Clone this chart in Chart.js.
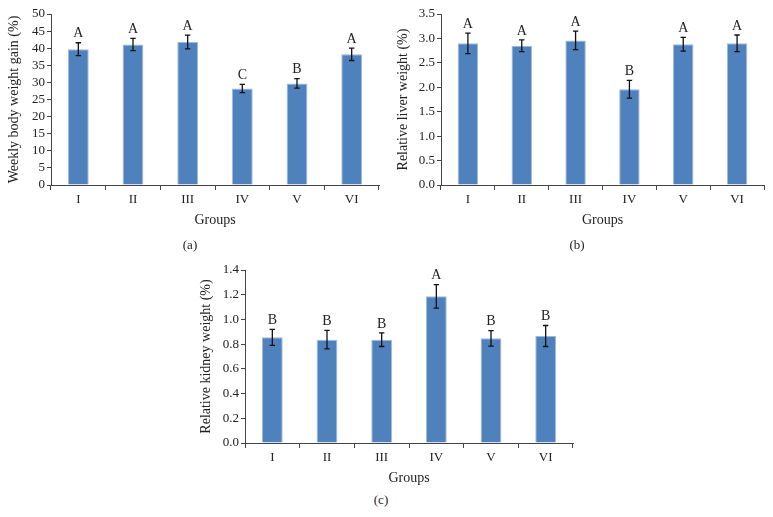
<!DOCTYPE html>
<html>
<head>
<meta charset="utf-8">
<script src="https://cdn.jsdelivr.net/npm/chart.js@4/dist/chart.umd.min.js"></script>
<style>
  body { margin: 0; background: #fff; width: 773px; height: 517px; position: relative; overflow: hidden; }
  canvas { position: absolute; }
  .cap { position: absolute; font: 13px "Liberation Serif", "DejaVu Serif", serif; color: #222; transform: translate(-50%, -50%); }
</style>
</head>
<body>
<canvas id="cA" width="390" height="230" style="left:0;top:0"></canvas>
<canvas id="cB" width="383" height="230" style="left:390px;top:0"></canvas>
<canvas id="cC" width="420" height="240" style="left:180px;top:250px"></canvas>
<div class="cap" style="left:190px;top:245px">(a)</div>
<div class="cap" style="left:577px;top:245px">(b)</div>
<div class="cap" style="left:381px;top:500px">(c)</div>
<script>
const groups = ['I', 'II', 'III', 'IV', 'V', 'VI']

// (a) weekly body weight gain
const weightGain = [39.7, 41.1, 41.8, 28.2, 29.7, 38.2]
const weightGainErr = [1.9, 1.8, 2.0, 1.2, 1.4, 1.8]
const weightGainLetters = ['A', 'A', 'A', 'C', 'B', 'A']

// (b) relative liver weight
const liverWeight = [2.90, 2.85, 2.96, 1.96, 2.88, 2.90]
const liverErr = [0.21, 0.12, 0.19, 0.18, 0.14, 0.17]
const liverLetters = ['A', 'A', 'A', 'B', 'A', 'A']

// (c) relative kidney weight
const kidneyWeight = [0.855, 0.836, 0.836, 1.187, 0.847, 0.866]
const kidneyErr = [0.065, 0.075, 0.055, 0.095, 0.063, 0.085]
const kidneyLetters = ['B', 'B', 'B', 'A', 'B', 'B']

const FONT = '"Liberation Serif", "DejaVu Serif", serif'
const TEXT = '#222'
const AXIS = '#444'

// error bars + significance letters
const errorBarPlugin = {
  id: 'errorBars',
  afterDatasetsDraw(chart, args, opts){
    const ctx = chart.ctx
    const y = chart.scales.y
    const meta = chart.getDatasetMeta(0)
    const vals = chart.data.datasets[0].data
    ctx.save()
    ctx.strokeStyle = '#111'
    ctx.lineWidth = 1.3
    meta.data.forEach((bar, i) => {
      const top = y.getPixelForValue(vals[i] + opts.err[i])
      const bot = y.getPixelForValue(vals[i] - opts.err[i])
      ctx.beginPath()
      ctx.moveTo(bar.x, top); ctx.lineTo(bar.x, bot)
      ctx.moveTo(bar.x - 2.7, top); ctx.lineTo(bar.x + 2.7, top)
      ctx.moveTo(bar.x - 2.7, bot); ctx.lineTo(bar.x + 2.7, bot)
      ctx.stroke()
      ctx.fillStyle = TEXT
      ctx.font = '14px ' + FONT
      ctx.textAlign = 'center'
      ctx.textBaseline = 'bottom'
      ctx.fillText(opts.letters[i], bar.x, top - 2)
    })
    ctx.restore()
  }
}

function makeChart(id, values, err, letters, cfg){
  new Chart(document.getElementById(id), {
    type: 'bar',
    data: { labels: groups, datasets: [{ data: values, backgroundColor: '#4f81bd', borderColor: '#9dbbe0', borderWidth: 1, barPercentage: 0.38, categoryPercentage: 1 }] },
    plugins: [errorBarPlugin],
    options: {
      responsive: false,
      animation: false,
      devicePixelRatio: 1,
      layout: { padding: cfg.padding },
      plugins: { legend: { display: false }, tooltip: { enabled: false }, errorBars: { err, letters } },
      scales: {
        x: {
          afterFit(s){ s.height = 44 },
          grid: { drawOnChartArea: false, tickLength: 5, color: AXIS, offset: true },
          border: { color: AXIS, width: 1 },
          ticks: { color: TEXT, font: { family: FONT, size: 13 }, padding: 2 },
          title: { display: true, text: 'Groups', color: TEXT, font: { family: FONT, size: 14 }, padding: { top: 0, bottom: 0 } }
        },
        y: {
          min: 0, max: cfg.max,
          afterFit(s){ s.width = cfg.yWidth },
          grid: { drawOnChartArea: false, tickLength: 4, color: AXIS },
          border: { color: AXIS, width: 1 },
          ticks: { stepSize: cfg.step, autoSkip: false, color: TEXT, font: { family: FONT, size: 13 }, padding: 2,
                   callback: v => v.toFixed(cfg.dec) },
          title: { display: true, text: cfg.title, color: TEXT, font: { family: FONT, size: 14 }, padding: { top: 0, bottom: 0 } }
        }
      }
    }
  })
}

makeChart('cA', weightGain, weightGainErr, weightGainLetters,
  { title: 'Weekly body weight gain (%)', max: 50, step: 5, dec: 0, yWidth: 45, padding: { left: 6, top: 14, right: 11, bottom: 1 } })
makeChart('cB', liverWeight, liverErr, liverLetters,
  { title: 'Relative liver weight (%)', max: 3.5, step: 0.5, dec: 1, yWidth: 46, padding: { left: 5, top: 14, right: 9, bottom: 1 } })
makeChart('cC', kidneyWeight, kidneyErr, kidneyLetters,
  { title: 'Relative kidney weight (%)', max: 1.4, step: 0.2, dec: 1, yWidth: 47, padding: { left: 18, top: 20, right: 27, bottom: 3 } })
</script>
</body>
</html>
